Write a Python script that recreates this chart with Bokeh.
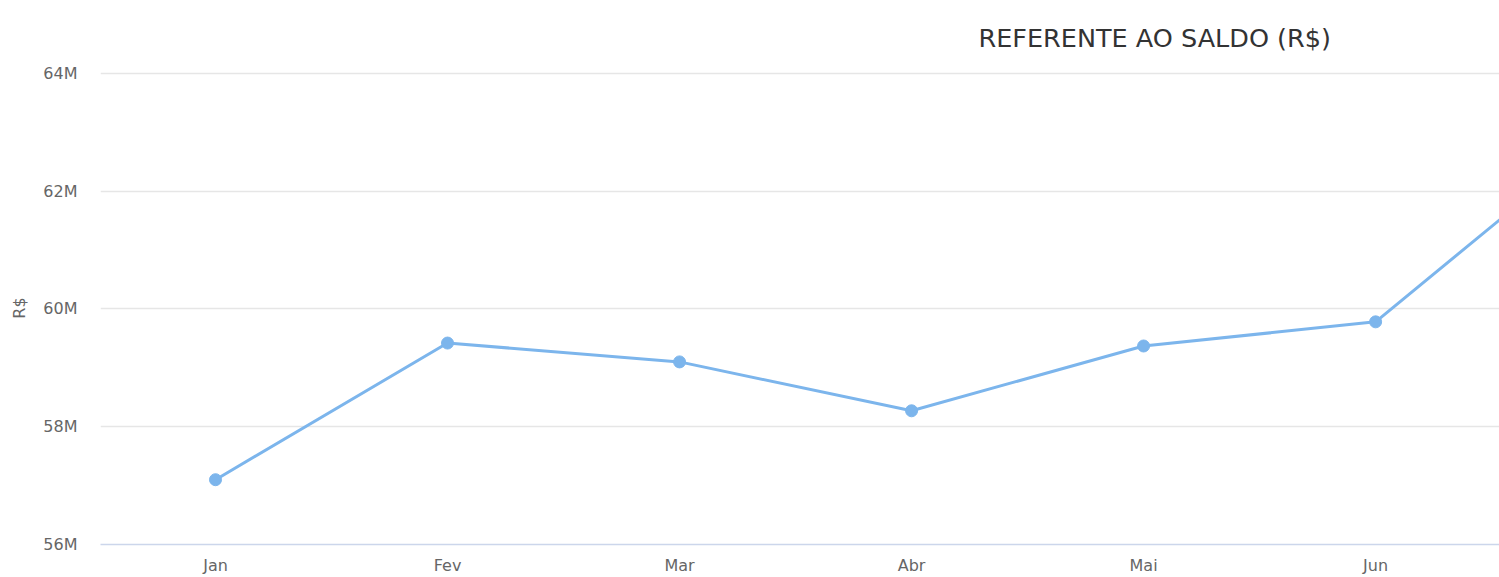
from bokeh.plotting import figure
from bokeh.models import Range1d, FixedTicker, PrintfTickFormatter, ColumnDataSource
from bokeh.embed import file_html
from bokeh.resources import INLINE

# Data (values in millions of R$)
months = ["Jan", "Fev", "Mar", "Abr", "Mai", "Jun", "Jul"]
saldo = [57.10, 59.42, 59.10, 58.27, 59.37, 59.78, 63.02]
y_ticks = [56, 58, 60, 62, 64]
title_text = "REFERENTE AO SALDO (R$)"
y_label = "R$"

FONT = "DejaVu Sans"
idx = list(range(len(months)))
src = ColumnDataSource(dict(x=idx, y=saldo, m=months))

p = figure(width=1499, height=577, output_backend="svg", toolbar_location=None,
           x_range=Range1d(-0.4957, 5.534), y_range=Range1d(56, 64.03),
           min_border_left=100, min_border_right=0, min_border_top=71,
           min_border_bottom=32)
p.outline_line_color = None
p.background_fill_color = "white"
p.border_fill_color = "white"

p.title.text = title_text
p.title.align = "left"
p.title.offset = 878
p.title.text_font = FONT
p.title.text_font_size = "25.5px"
p.title.text_font_style = "normal"
p.title.text_color = "#333333"
p.title.standoff = 37

p.line("x", "y", source=src, line_color="#7cb5ec", line_width=3)
p.scatter("x", "y", source=src, size=12, fill_color="#7cb5ec", line_color="#7cb5ec")

# x axis
p.xaxis.ticker = FixedTicker(ticks=idx[:6])
p.xaxis.major_label_overrides = {i: months[i] for i in idx[:6]}
p.xaxis.major_tick_line_color = None
p.xaxis.major_tick_out = 0
p.xaxis.major_tick_in = 0
p.xaxis.minor_tick_line_color = None
p.xaxis.minor_tick_out = 0
p.xaxis.axis_line_color = "#ccd6eb"
p.xaxis.axis_line_width = 1.5
p.xaxis.major_label_text_font = FONT
p.xaxis.major_label_text_font_size = "16px"
p.xaxis.major_label_text_color = "#666666"
p.xaxis.major_label_standoff = 11
p.xgrid.grid_line_color = None

# y axis
p.yaxis.ticker = FixedTicker(ticks=y_ticks)
p.yaxis.formatter = PrintfTickFormatter(format="%dM")
p.yaxis.major_tick_line_color = None
p.yaxis.major_tick_out = 0
p.yaxis.major_tick_in = 0
p.yaxis.minor_tick_line_color = None
p.yaxis.minor_tick_out = 0
p.yaxis.axis_line_color = None
p.yaxis.major_label_text_font = FONT
p.yaxis.major_label_text_font_size = "16px"
p.yaxis.major_label_text_color = "#666666"
p.yaxis.major_label_standoff = 23
p.yaxis.axis_label = y_label
p.yaxis.axis_label_text_font = FONT
p.yaxis.axis_label_text_font_size = "16px"
p.yaxis.axis_label_text_font_style = "normal"
p.yaxis.axis_label_text_color = "#666666"
p.yaxis.axis_label_standoff = 11
p.ygrid.grid_line_color = "#e6e6e6"
p.ygrid.grid_line_width = 1.5

open("out.html", "w").write(file_html(p, INLINE))
